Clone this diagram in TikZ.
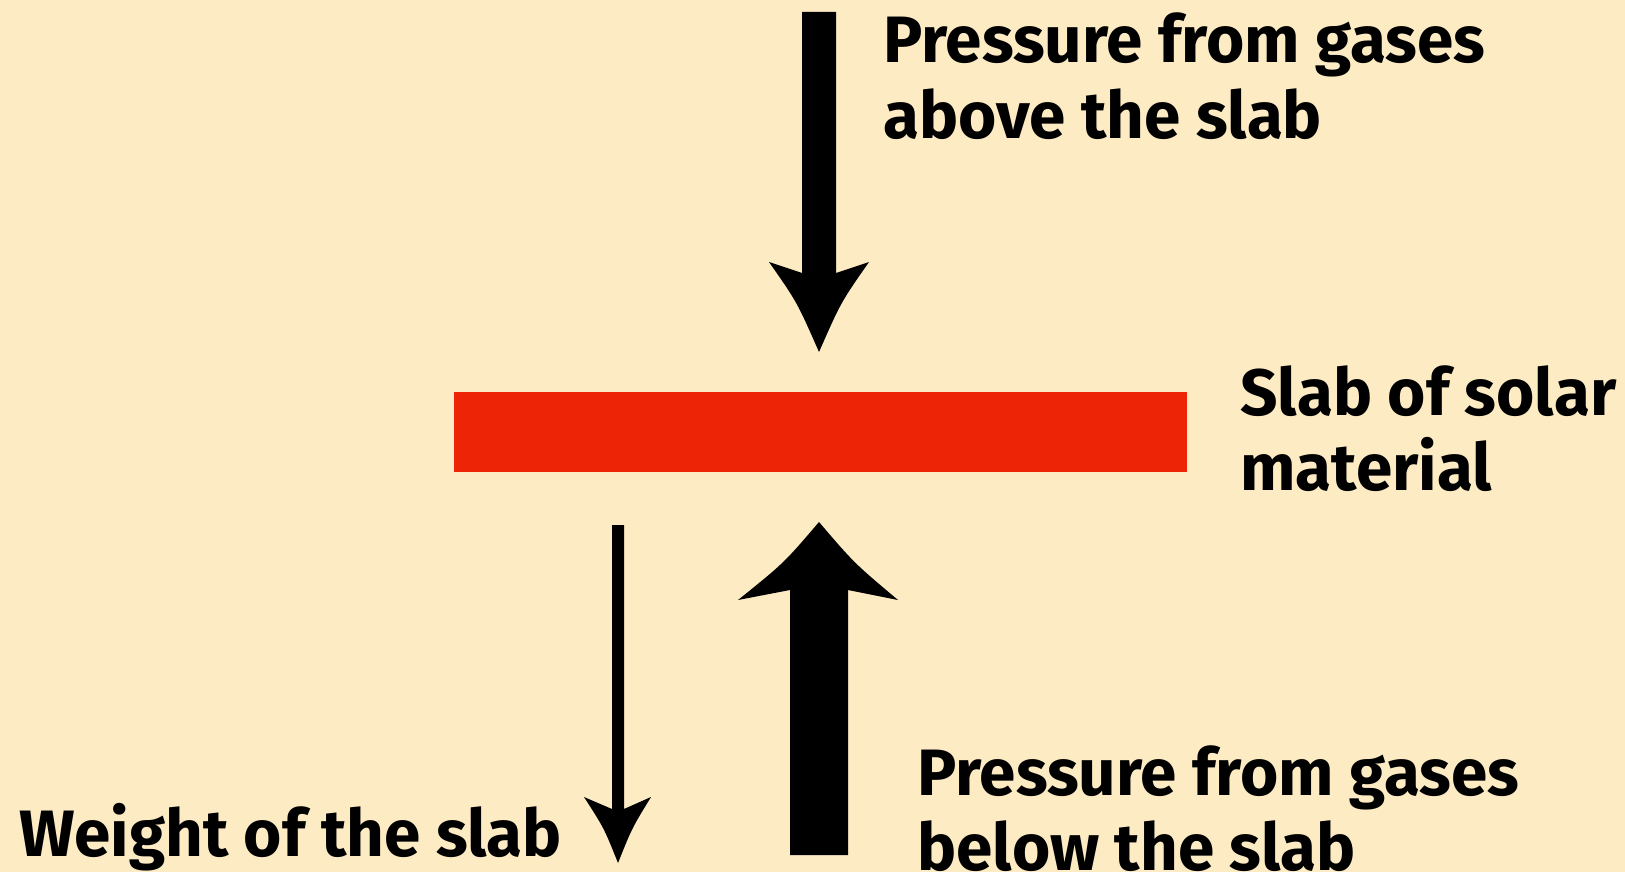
\documentclass[tikz,border=0pt]{standalone}
\usepackage{fontspec}
\setmainfont{Fira Sans}
\definecolor{bg}{HTML}{FDEBC3}
\definecolor{slab}{HTML}{EE2406}
\begin{document}
\begin{tikzpicture}[x=0.5pt,y=-0.5pt,
  lab/.style={anchor=base west,inner sep=0pt,align=left,font=\fontsize{32.8}{37.5}\selectfont\bfseries},
  force/.style={fill=black,draw=none}]
\fill[bg] (0,0) rectangle (1625,872);
\useasboundingbox (0,0) rectangle (1625,872);
% slab
\node[fill=slab,minimum width=733*0.5pt,minimum height=80*0.5pt,inner sep=0pt,anchor=north west] (slab) at (454,392) {};
% top arrow
\fill[force] (802,12) -- (836,12) -- (836,273) -- (869,262) .. controls (841,302) .. (819,352)
  .. controls (797,302) .. (769,262) -- (802,273) -- cycle;
% up arrow
\fill[force] (790,855) -- (848,855) -- (848,590) -- (898,600) .. controls (854,563) .. (819,522)
  .. controls (784,563) .. (738,600) -- (790,590) -- cycle;
% weight arrow
\fill[force] (612,525) -- (624,525) -- (624,809) -- (651,797) .. controls (632,828) .. (618,863)
  .. controls (604,828) .. (584,797) -- (612,809) -- cycle;
% labels
\node[lab] (ptop) at (883,138) {Pressure from gases\\above the slab};
\node[lab] (sl) at (1240,490) {Slab of solar\\material};
\node[lab] (pbot) at (917,870) {Pressure from gases\\below the slab};
\node[lab] (w) at (19,856) {Weight of the slab};
\end{tikzpicture}
\end{document}
